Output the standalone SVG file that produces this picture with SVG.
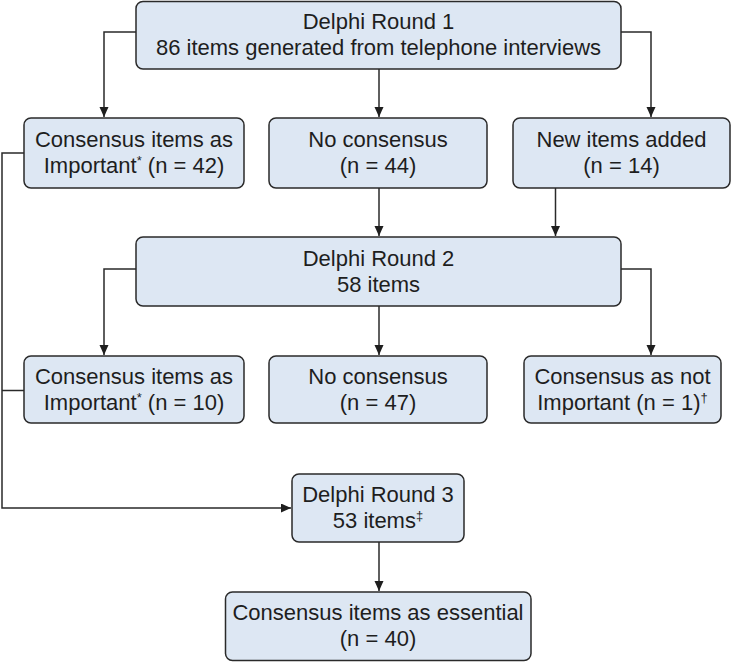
<svg xmlns="http://www.w3.org/2000/svg" width="732" height="662" viewBox="0 0 732 662">
<style>
.box{fill:#dde7f3;stroke:#2a2a2a;stroke-width:1.5}
.t{font-family:"Liberation Sans",Arial,sans-serif;font-size:22px;fill:#1e1e1e;text-anchor:middle}
.sup{font-size:13px}
.c{fill:none;stroke:#2a2a2a;stroke-width:1.5}
</style>
<defs>
<marker id="ah" markerUnits="userSpaceOnUse" markerWidth="11" markerHeight="10" refX="10" refY="4.5" orient="auto">
<path d="M0,0 L10,4.5 L0,9 z" fill="#1e1e1e"/>
</marker>
</defs>
<g id="connectors">
<path class="c" d="M136,32 H104 V117" marker-end="url(#ah)"/>
<path class="c" d="M379,69 V117" marker-end="url(#ah)"/>
<path class="c" d="M621,32 H651 V117" marker-end="url(#ah)"/>
<path class="c" d="M379,188 V236" marker-end="url(#ah)"/>
<path class="c" d="M555.5,188 V236" marker-end="url(#ah)"/>
<path class="c" d="M136,269 H104 V355" marker-end="url(#ah)"/>
<path class="c" d="M379,306 V355" marker-end="url(#ah)"/>
<path class="c" d="M621,269 H651 V355" marker-end="url(#ah)"/>
<path class="c" d="M24,153 H2 V508 H291" marker-end="url(#ah)"/>
<path class="c" d="M24,390.5 H2"/>
<path class="c" d="M379,542 V591" marker-end="url(#ah)"/>
</g>
<g id="round1">
<rect class="box" x="136" y="1.5" width="485" height="67.5" rx="7"/>
<text class="t" x="378.5" y="29">Delphi Round 1</text>
<text class="t" x="378.5" y="55">86 items generated from telephone interviews</text>
</g>
<g id="r1-important">
<rect class="box" x="24" y="118" width="220" height="70" rx="7"/>
<text class="t" x="134" y="147">Consensus items as</text>
<text class="t" x="134" y="173">Important<tspan class="sup" dy="-8">*</tspan><tspan dy="8"> (n = 42)</tspan></text>
</g>
<g id="r1-noconsensus">
<rect class="box" x="269" y="118" width="218" height="70" rx="7"/>
<text class="t" x="378" y="147">No consensus</text>
<text class="t" x="378" y="173">(n = 44)</text>
</g>
<g id="r1-new">
<rect class="box" x="513" y="118" width="217" height="70" rx="7"/>
<text class="t" x="621.5" y="147">New items added</text>
<text class="t" x="621.5" y="173">(n = 14)</text>
</g>
<g id="round2">
<rect class="box" x="136" y="237" width="485" height="69" rx="7"/>
<text class="t" x="378.5" y="265.5">Delphi Round 2</text>
<text class="t" x="378.5" y="291.5">58 items</text>
</g>
<g id="r2-important">
<rect class="box" x="24" y="356" width="220" height="67" rx="7"/>
<text class="t" x="134" y="383.5">Consensus items as</text>
<text class="t" x="134" y="409.5">Important<tspan class="sup" dy="-8">*</tspan><tspan dy="8"> (n = 10)</tspan></text>
</g>
<g id="r2-noconsensus">
<rect class="box" x="269" y="356" width="218" height="67" rx="7"/>
<text class="t" x="378" y="383.5">No consensus</text>
<text class="t" x="378" y="409.5">(n = 47)</text>
</g>
<g id="r2-notimportant">
<rect class="box" x="524" y="356" width="197" height="67" rx="7"/>
<text class="t" x="622.5" y="383.5">Consensus as not</text>
<text class="t" x="622.5" y="409.5">Important (n = 1)<tspan class="sup" dy="-8">†</tspan></text>
</g>
<g id="round3">
<rect class="box" x="292" y="474" width="172" height="68" rx="7"/>
<text class="t" x="378" y="502">Delphi Round 3</text>
<text class="t" x="378" y="528">53 items<tspan class="sup" dy="-8">‡</tspan></text>
</g>
<g id="essential">
<rect class="box" x="225.5" y="592" width="305.5" height="68.5" rx="7"/>
<text class="t" x="378" y="620">Consensus items as essential</text>
<text class="t" x="378" y="646">(n = 40)</text>
</g>
</svg>
